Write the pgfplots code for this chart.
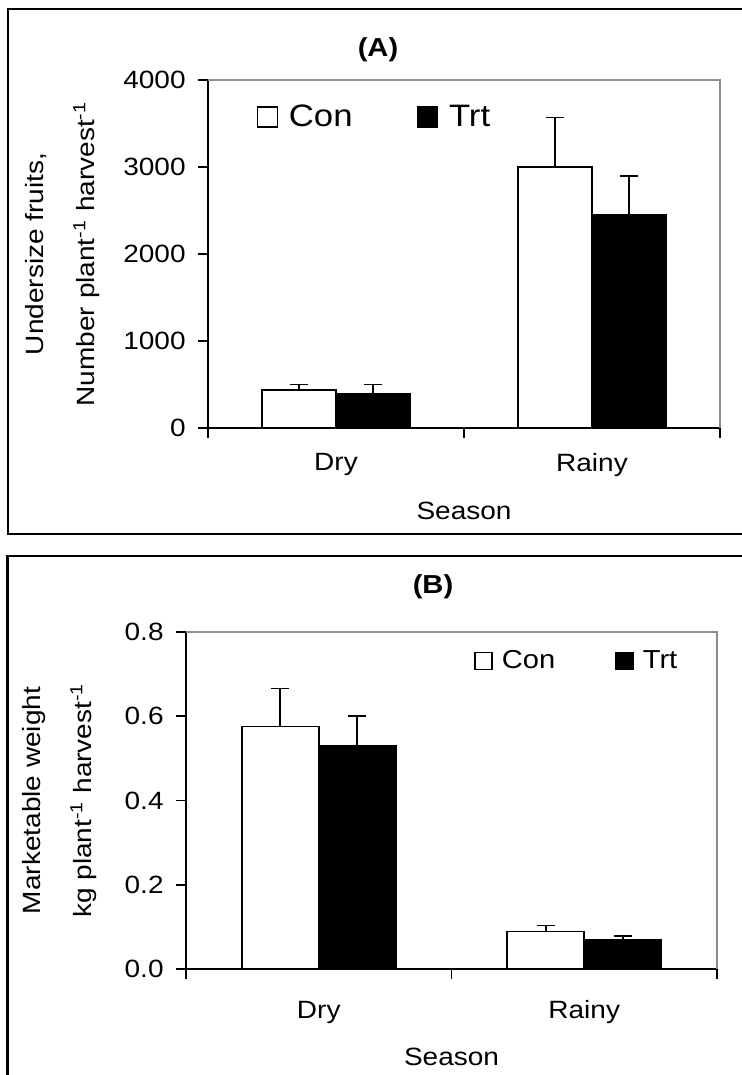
\documentclass[border=0pt]{standalone}
\usepackage{pgfplots}
\pgfplotsset{compat=1.18}
\usepackage{fontspec}
\setmainfont{Liberation Sans}[FakeStretch=1.12]

\definecolor{boxgray}{HTML}{8C8C8C}

\pgfplotsset{
  season bars/.style={
    scale only axis,
    anchor=south west,
    ybar,
    bar width=0.29,
    xmin=-0.5, xmax=1.5,
    ymin=0,
    xtick={-0.5,0.5,1.5},
    xticklabels={},
    extra x ticks={0,1},
    extra x tick labels={Dry,Rainy},
    extra x tick style={major tick length=0pt},
    axis x line*=bottom,
    axis y line*=left,
    tick align=outside,
    major tick length=5pt,
    axis line style={line width=0.8pt, -},
    tick style={line width=0.8pt, black},
    tick label style={font=\fontsize{12.5}{15}\selectfont},
    label style={font=\fontsize{12.5}{25.5}\selectfont},
    yticklabel style={anchor=east, inner sep=0pt, xshift=-6pt},
    /pgf/number format/assume math mode=true,
    /pgf/number format/1000 sep={},
    ylabel style={anchor=center, align=center},
    xlabel style={anchor=center},
    legend style={draw=none, fill=none, inner sep=0pt, legend columns=2,
      nodes={inner xsep=0pt}},
    error bars/y dir=plus,
    error bars/y explicit,
    error bars/error bar style={line width=0.8pt, black},
    error bars/error mark options={rotate=90, mark size=4.6pt, line width=0.8pt, black},
    after end axis/.code={
      \draw[boxgray, line width=0.6pt] (rel axis cs:0,1) -- (rel axis cs:1,1) -- (rel axis cs:1,0);
    },
  },
  con/.style={draw=black, fill=white, line width=0.8pt, bar shift=-0.145},
  trt/.style={draw=black, fill=black, line width=0.8pt, bar shift=0.145},
}

\begin{document}
\begin{tikzpicture}
% panel frames
\draw[line width=1.3pt] (400pt,533pt) -- (4pt,533pt) -- (4pt,270.5pt) -- (400pt,270.5pt);
\draw[line width=1.3pt] (400pt,259.5pt) -- (3.75pt,259.5pt) -- (3.75pt,-10pt);
\node[font=\bfseries\fontsize{13}{15}\selectfont] at (189pt,512.5pt) {(A)};
\node[font=\bfseries\fontsize{13}{15}\selectfont] at (216.5pt,244pt) {(B)};

% (A) undersize fruits
\begin{axis}[season bars,
  at={(104pt,323.5pt)}, width=256pt, height=174pt,
  ymax=4000, ytick={0,1000,2000,3000,4000},
  extra x tick style={major tick length=0pt, xticklabel style={anchor=center, yshift=-18.5pt}},
  ylabel={Undersize fruits,\\Number plant\textsuperscript{-1} harvest\textsuperscript{-1}},
  ylabel style={at={(axis description cs:-0.285,0.5)}},
  xlabel={Season},
  xlabel style={at={(axis description cs:0.5,-0.2385)}},
  legend style={at={(axis description cs:0.094,0.894)}, anchor=west,
    font=\fontsize{15.5}{18}\selectfont,
    /tikz/every even column/.append style={column sep=32pt}},
  legend image code/.code={\draw[#1, line width=0.7pt] (0pt,-5pt) rectangle (10pt,5pt);},
]
\addplot[con] coordinates {(0,440) +- (0,58) (1,3000) +- (0,570)};
\addplot[trt] coordinates {(0,395) +- (0,103) (1,2455) +- (0,440)};
\legend{\hspace{5.5pt}Con,\hspace{5.5pt}Trt}
\end{axis}

% (B) marketable weight
\begin{axis}[season bars,
  at={(93pt,53pt)}, width=265.5pt, height=168.5pt,
  ymax=0.8, ytick={0,0.2,0.4,0.6,0.8},
  yticklabel style={/pgf/number format/.cd, fixed, fixed zerofill, precision=1},
  extra x tick style={major tick length=0pt, xticklabel style={anchor=center, yshift=-21.5pt}},
  ylabel={Marketable weight\\kg plant\textsuperscript{-1} harvest\textsuperscript{-1}},
  ylabel style={at={(axis description cs:-0.239,0.5)}},
  xlabel={Season},
  xlabel style={at={(axis description cs:0.5,-0.261)}},
  legend style={at={(axis description cs:0.542,0.914)}, anchor=west,
    font=\fontsize{13}{16}\selectfont,
    /tikz/every even column/.append style={column sep=30pt}},
  legend image code/.code={\draw[#1, line width=0.7pt] (0pt,-4.3pt) rectangle (8.6pt,4.3pt);},
]
\addplot[con] coordinates {(0,0.576) +- (0,0.090) (1,0.089) +- (0,0.014)};
\addplot[trt] coordinates {(0,0.529) +- (0,0.071) (1,0.070) +- (0,0.009)};
\legend{\hspace{4.5pt}Con,\hspace{4.5pt}Trt}
\end{axis}

\pgfresetboundingbox
\useasboundingbox (0,0) rectangle (371pt,537.5pt);
\end{tikzpicture}
\end{document}
